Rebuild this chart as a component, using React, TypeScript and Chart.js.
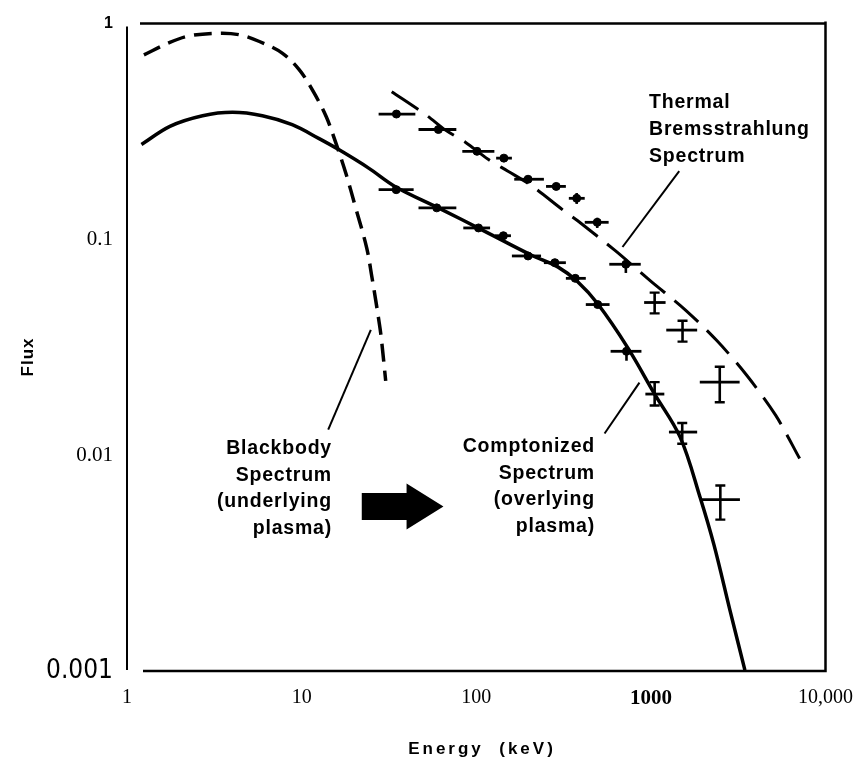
import { useEffect, useRef } from "react";
import { Chart, registerables } from "chart.js";

Chart.register(...registerables);

// ---- axis ticks ----
const xTickValues = [1, 10, 100, 1000, 10000];
const xTickLabels = ["1", "10", "100", "1000", "10,000"];
const yTickValues = [0.001, 0.01, 0.1, 1];
const yTickLabels = ["0.001", "0.01", "0.1", "1"];

// ---- Blackbody spectrum (underlying plasma), dashed ----
const bbEnergy = [1.25, 1.76, 2.29, 3.39, 4.4, 5.73, 7.74, 9.68, 11.5, 13.8, 15.7, 17.9, 20.4, 23.6, 25.2, 26.6, 27.7, 28.4, 29.5, 30.3];
const bbFlux = [0.716, 0.818, 0.878, 0.903, 0.888, 0.826, 0.73, 0.612, 0.494, 0.372, 0.28, 0.203, 0.14, 0.0912, 0.0677, 0.0519, 0.042, 0.0365, 0.0274, 0.0221];

// ---- Comptonized spectrum (overlying plasma), solid ----
const comptEnergy = [1.21, 1.76, 2.71, 4.02, 5.96, 8.83, 12.6, 16.4, 24.2, 34.6, 60.7, 112, 206, 293, 381, 496, 735, 1047, 1473, 1915, 2300, 2838, 3455];
const comptFlux = [0.275, 0.334, 0.374, 0.388, 0.374, 0.34, 0.293, 0.26, 0.214, 0.175, 0.14, 0.109, 0.0847, 0.0746, 0.0636, 0.0503, 0.0316, 0.0193, 0.0121, 0.00637, 0.00383, 0.00191, 0.00101];

// ---- Thermal bremsstrahlung spectrum, long dashes ----
const bremsEnergy = [32.8, 51.9, 66.6, 86.6, 117, 152, 206, 313, 381, 628, 994, 1573, 2393, 3547, 5189, 7111];
const bremsFlux = [0.483, 0.376, 0.321, 0.282, 0.235, 0.207, 0.178, 0.137, 0.122, 0.0884, 0.0642, 0.0472, 0.0339, 0.0234, 0.0153, 0.00965];

// ---- measured points, upper state ----
const upperE = [34.9, 60.7, 101, 144, 198, 287, 376, 493, 719, 1051, 1518, 2480];
const upperF = [0.381, 0.323, 0.256, 0.238, 0.19, 0.176, 0.155, 0.12, 0.0767, 0.051, 0.038, 0.0218];
const upperELo = [27.6, 46.7, 83.2, 130, 165, 251, 339, 418, 578, 915, 1225, 1906];
const upperEHi = [44.8, 76.9, 127, 160, 244, 326, 418, 573, 875, 1214, 1841, 3223];
const upperFLo = [null, null, null, null, null, null, 0.146, 0.113, 0.0699, 0.0454, 0.0336, 0.0176];
const upperFHi = [null, null, null, null, null, null, 0.164, 0.126, 0.0812, 0.0567, 0.042, 0.0257];

// ---- measured points, lower state ----
const lowerE = [34.8, 59.4, 103, 143, 198, 282, 369, 496, 725, 1051, 1512, 2499];
const lowerF = [0.17, 0.14, 0.113, 0.104, 0.0838, 0.078, 0.066, 0.0499, 0.0303, 0.0192, 0.0128, 0.00622];
const lowerELo = [27.6, 46.7, 84.3, 128, 160, 244, 326, 424, 588, 930, 1269, 1915];
const lowerEHi = [43.8, 76.9, 120, 158, 235, 326, 424, 580, 883, 1194, 1841, 3236];
const lowerFLo = [null, null, null, null, null, null, null, null, 0.0274, 0.017, 0.0113, 0.00503];
const lowerFHi = [null, null, null, null, null, null, null, null, 0.0322, 0.0218, 0.0141, 0.00724];

// ---- annotation text ----
const bbLabel = ["Blackbody", "Spectrum", "(underlying", "plasma)"];
const comptLabel = ["Comptonized", "Spectrum", "(overlying", "plasma)"];
const bremsLabel = ["Thermal", "Bremsstrahlung", "Spectrum"];
const xTitle = "Energy  (keV)";
const yTitle = "Flux";

// leader lines [energy, flux] pairs
const bbLeader = [[14.2, 0.01315], [24.9, 0.0381]];
const comptLeader = [[543, 0.0126], [860, 0.0217]];
const bremsLeader = [[1453, 0.207], [688, 0.0922]];
// arrow: tail energy, head-base energy, tip energy, flux level
const arrowE = [22.1, 39.9, 64.9];
const arrowF = 0.00579;

const pts = (xs: number[], ys: number[]) => xs.map((x, i) => ({ x, y: ys[i] }));

export default function App() {
  const ref = useRef<HTMLCanvasElement>(null);

  useEffect(() => {
    const canvas = ref.current!;
    const sansBold = "'Liberation Sans', Arial, Helvetica, sans-serif";

    const decor = {
      id: "decor",
      afterDatasetsDraw(chart: any) {
        const { ctx, chartArea: a } = chart;
        const sx = chart.scales.x;
        const sy = chart.scales.y;
        const X = (v: number) => sx.getPixelForValue(v);
        const Y = (v: number) => sy.getPixelForValue(v);
        ctx.save();
        ctx.strokeStyle = "#000";
        ctx.fillStyle = "#000";
        ctx.lineCap = "butt";

        // error bars
        const errs = (xs: number[], ys: number[], xlo: number[], xhi: number[], ylo: (number | null)[], yhi: (number | null)[]) => {
          for (let i = 0; i < xs.length; i++) {
            const px = X(xs[i]);
            const py = Y(ys[i]);
            ctx.lineWidth = 2.8;
            ctx.beginPath();
            ctx.moveTo(X(xlo[i]), py);
            ctx.lineTo(X(xhi[i]), py);
            ctx.stroke();
            const lo = ylo[i];
            const hi = yhi[i];
            if (lo != null && hi != null) {
              const p1 = Y(hi);
              const p2 = Y(lo);
              ctx.lineWidth = 2.6;
              ctx.beginPath();
              ctx.moveTo(px, p1);
              ctx.lineTo(px, p2);
              ctx.stroke();
              if (p2 - p1 > 18) {
                ctx.lineWidth = 2.4;
                ctx.beginPath();
                ctx.moveTo(px - 5, p1);
                ctx.lineTo(px + 5, p1);
                ctx.moveTo(px - 5, p2);
                ctx.lineTo(px + 5, p2);
                ctx.stroke();
              }
            }
          }
        };
        errs(upperE, upperF, upperELo, upperEHi, upperFLo, upperFHi);
        errs(lowerE, lowerF, lowerELo, lowerEHi, lowerFLo, lowerFHi);

        // frame
        ctx.lineWidth = 2;
        ctx.beginPath();
        ctx.moveTo(a.left, a.top + 3);
        ctx.lineTo(a.left, a.bottom - 1);
        ctx.stroke();
        ctx.lineWidth = 2.5;
        ctx.beginPath();
        ctx.moveTo(a.left + 16, a.bottom);
        ctx.lineTo(a.right, a.bottom);
        ctx.lineTo(a.right, a.top - 2);
        ctx.moveTo(a.left + 13, a.top);
        ctx.lineTo(a.right, a.top);
        ctx.stroke();

        // leader lines
        ctx.lineWidth = 2;
        for (const ld of [bbLeader, comptLeader, bremsLeader]) {
          ctx.beginPath();
          ctx.moveTo(X(ld[0][0]), Y(ld[0][1]));
          ctx.lineTo(X(ld[1][0]), Y(ld[1][1]));
          ctx.stroke();
        }

        // arrow
        const ay = Y(arrowF);
        const t0 = X(arrowE[0]);
        const t1 = X(arrowE[1]);
        const t2 = X(arrowE[2]);
        ctx.beginPath();
        ctx.moveTo(t0, ay - 13.5);
        ctx.lineTo(t1, ay - 13.5);
        ctx.lineTo(t1, ay - 23);
        ctx.lineTo(t2, ay);
        ctx.lineTo(t1, ay + 23);
        ctx.lineTo(t1, ay + 13.5);
        ctx.lineTo(t0, ay + 13.5);
        ctx.closePath();
        ctx.fill();

        // annotation text
        ctx.font = `bold 19.5px ${sansBold}`;
        (ctx as any).letterSpacing = "0.8px";
        ctx.textBaseline = "alphabetic";
        ctx.textAlign = "right";
        bbLabel.forEach((s, i) => ctx.fillText(s, 332, 454 + i * 26.6));
        comptLabel.forEach((s, i) => ctx.fillText(s, 595, 452 + i * 26.6));
        ctx.textAlign = "left";
        bremsLabel.forEach((s, i) => ctx.fillText(s, 649, 108 + i * 26.8));

        // axis titles
        ctx.font = `bold 17px ${sansBold}`;
        (ctx as any).letterSpacing = "3px";
        ctx.textAlign = "center";
        ctx.textBaseline = "middle";
        ctx.fillText(xTitle, 482, 749);
        (ctx as any).letterSpacing = "1px";
        ctx.translate(28, 357);
        ctx.rotate(-Math.PI / 2);
        ctx.fillText(yTitle, 0, 0);
        ctx.restore();
      },
    };

    const chart = new Chart(canvas, {
      type: "line",
      data: {
        datasets: [
          {
            data: pts(bbEnergy, bbFlux),
            borderColor: "#000",
            borderWidth: 3.5,
            borderDash: [18, 9],
            pointRadius: 0,
            tension: 0.35,
            fill: false,
          },
          {
            data: pts(comptEnergy, comptFlux),
            borderColor: "#000",
            borderWidth: 3.5,
            pointRadius: 0,
            tension: 0.35,
            fill: false,
          },
          {
            data: pts(bremsEnergy, bremsFlux),
            borderColor: "#000",
            borderWidth: 3,
            borderDash: [32, 12],
            pointRadius: 0,
            tension: 0.3,
            fill: false,
          },
          {
            type: "scatter",
            data: pts(upperE, upperF),
            backgroundColor: "#000",
            borderColor: "#000",
            pointRadius: (c: any) => (c.dataIndex < 9 ? 4 : 0),
            showLine: false,
          } as any,
          {
            type: "scatter",
            data: pts(lowerE, lowerF),
            backgroundColor: "#000",
            borderColor: "#000",
            pointRadius: (c: any) => (c.dataIndex < 9 ? 4 : 0),
            showLine: false,
          } as any,
        ],
      },
      options: {
        responsive: false,
        animation: false,
        layout: { padding: { left: 0, top: 22, right: 39, bottom: 0 } },
        plugins: { legend: { display: false }, tooltip: { enabled: false } },
        scales: {
          x: {
            type: "logarithmic",
            min: 1,
            max: 10000,
            grid: { display: false, drawTicks: false },
            border: { display: false },
            afterBuildTicks: (s: any) => {
              s.ticks = xTickValues.map((v) => ({ value: v }));
            },
            afterFit: (s: any) => {
              s.height = 91;
            },
            ticks: {
              autoSkip: false,
              maxRotation: 0,
              padding: 15,
              color: "#000",
              font: (c: any) =>
                c.tick && c.tick.value === 1000
                  ? { family: "'Liberation Serif', 'Times New Roman', serif", size: 21, weight: "bold" }
                  : { family: "'Liberation Serif', 'Times New Roman', serif", size: 20, weight: "normal" },
              callback: (v: any) => {
                const i = xTickValues.indexOf(Number(v));
                return i >= 0 ? xTickLabels[i] : "";
              },
            },
          },
          y: {
            type: "logarithmic",
            min: 0.001,
            max: 1,
            grid: { display: false, drawTicks: false },
            border: { display: false },
            afterBuildTicks: (s: any) => {
              s.ticks = yTickValues.map((v) => ({ value: v }));
            },
            afterFit: (s: any) => {
              s.width = 127;
            },
            ticks: {
              autoSkip: false,
              padding: 14,
              color: "#000",
              font: (c: any) =>
                c.tick && c.tick.value === 0.001
                  ? { family: "'Liberation Sans Narrow', 'DejaVu Sans Condensed', sans-serif", size: 26, weight: "normal" }
                  : c.tick && c.tick.value === 1
                  ? { family: "'Liberation Sans', sans-serif", size: 16, weight: "bold" }
                  : { family: "'Liberation Serif', 'Times New Roman', serif", size: 21, weight: "normal" },
              callback: (v: any) => {
                const i = yTickValues.indexOf(Number(v));
                return i >= 0 ? yTickLabels[i] : "";
              },
            },
          },
        },
      },
      plugins: [decor],
    } as any);

    return () => chart.destroy();
  }, []);

  return (
    <div style={{ position: "absolute", left: 0, top: 0, width: 868, height: 762, background: "#fff" }}>
      <canvas ref={ref} width={868} height={762} style={{ display: "block", width: 868, height: 762 }} />
    </div>
  );
}
